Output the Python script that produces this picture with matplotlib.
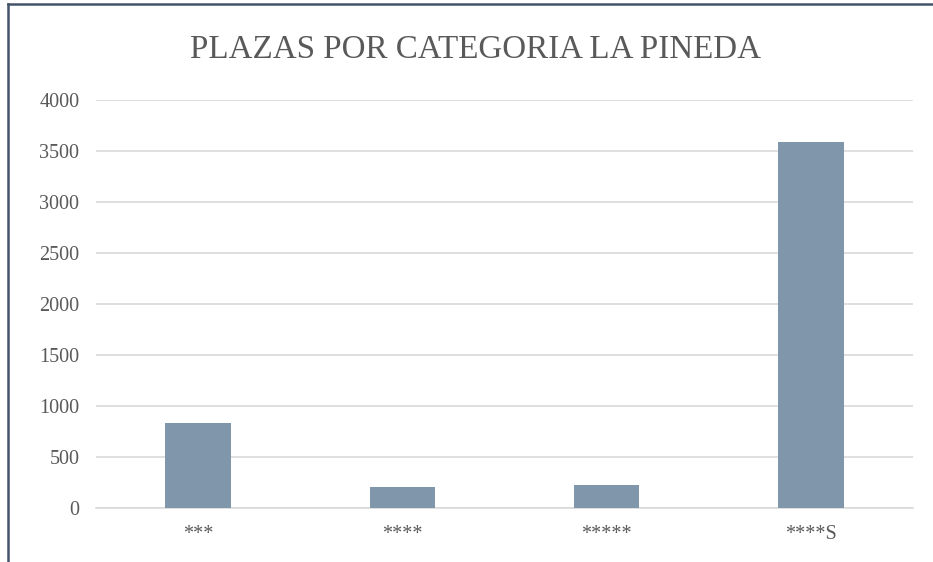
import matplotlib
matplotlib.use("Agg")
import matplotlib.pyplot as plt
from matplotlib.lines import Line2D

categories = ["***", "****", "*****", "****S"]
values = [830, 205, 222, 3590]
yticks = [0, 500, 1000, 1500, 2000, 2500, 3000, 3500, 4000]

W, H = 933, 562
fig = plt.figure(figsize=(W / 100, H / 100), dpi=100)
ax = fig.add_axes([96 / W, 1 - 508 / H, (913 - 96) / W, (508 - 100) / H])

ax.bar(range(len(categories)), values, width=0.32, color="#7f96ab", zorder=3)
ax.set_xlim(-0.5, len(categories) - 0.5)
ax.set_ylim(0, 4000)
ax.set_yticks(yticks)
ax.set_yticklabels([str(v) for v in yticks])
ax.set_xticks(range(len(categories)))
ax.set_xticklabels(categories)
ax.yaxis.grid(True, color="#d9d9d9", linewidth=1.2, zorder=0)
for s in ["top", "right", "left"]:
    ax.spines[s].set_visible(False)
ax.spines["bottom"].set_color("#d9d9d9")
ax.spines["bottom"].set_linewidth(1.2)
ax.tick_params(axis="both", length=0, labelsize=14.5, labelcolor="#595959")
ax.tick_params(axis="x", pad=12)
ax.tick_params(axis="y", pad=12)
for lab in ax.get_xticklabels() + ax.get_yticklabels():
    lab.set_family("Liberation Serif")

fig.text(475 / W, 1 - 50 / H, "PLAZAS POR CATEGORIA LA PINEDA", ha="center", va="center",
         fontsize=23.8, color="#595959", family="Liberation Serif")

# outer frame (left and top edges visible)
fig.add_artist(Line2D([8 / W, 8 / W], [0, 1 - 4 / H], transform=fig.transFigure,
                      color="#44546a", linewidth=1.8))
fig.add_artist(Line2D([8 / W, 1], [1 - 4 / H, 1 - 4 / H], transform=fig.transFigure,
                      color="#44546a", linewidth=1.8))

fig.savefig("out.png", dpi=100)
